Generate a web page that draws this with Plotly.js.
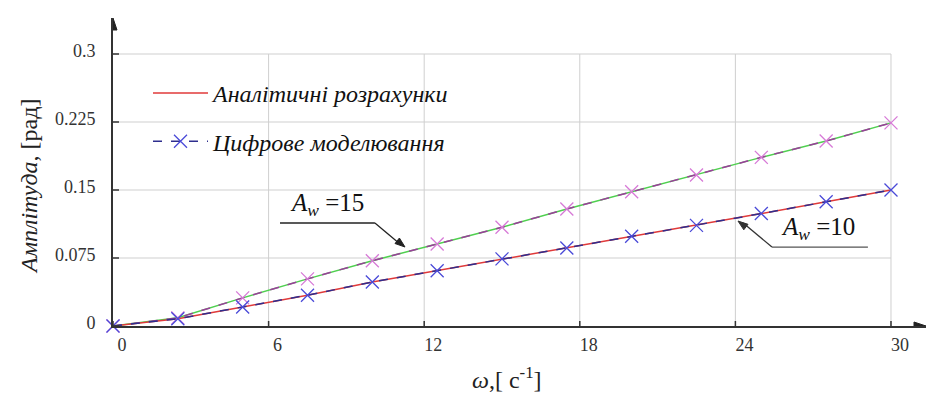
<!DOCTYPE html>
<html>
<head>
<meta charset="utf-8">
<script src="https://cdn.plot.ly/plotly-3.0.1.min.js"></script>
<style>
html,body{margin:0;padding:0;background:#fff;}
#chart{width:929px;height:400px;}
#chart svg text, #chart svg tspan { font-family: 'Liberation Serif', serif !important; }
</style>
</head>
<body>
<div id="chart"></div>
<script>
// ---- data ----
const omega = [0, 2.5, 5, 7.5, 10, 12.5, 15, 17.5, 20, 22.5, 25, 27.5, 30];
const amp10 = [0, 0.008, 0.021, 0.034, 0.0485, 0.061, 0.074, 0.086, 0.099, 0.111, 0.124, 0.137, 0.150];
const amp15 = [0, 0.009, 0.031, 0.052, 0.072, 0.0905, 0.109, 0.129, 0.148, 0.1665, 0.186, 0.204, 0.224];
const xTicks = [0, 6, 12, 18, 24, 30];
const xTickText = ['0', '6', '12', '18', '24', '30'];
const yTicks = [0, 0.075, 0.15, 0.225, 0.3];
const yTickText = ['0', '0.075', '0.15', '0.225', '0.3'];
const legendNames = ['Аналітичні розрахунки', 'Цифрове моделювання'];

const FONT = 'Liberation Serif';
const xMax = 31.35, yMax = 0.3397;
const gridX = xTicks[xTicks.length - 1], gridY = yTicks[yTicks.length - 1];

const traces = [
  {x: omega, y: amp15, mode: 'lines', line: {color: '#4fd04f', width: 1.5}, showlegend: false, cliponaxis: false, hoverinfo: 'skip'},
  {x: omega, y: amp10, mode: 'lines', name: '<i>' + legendNames[0] + '</i>', legendgroup: 'a', line: {color: '#e03a3a', width: 1.5}, cliponaxis: false},
  {x: omega, y: amp15, mode: 'lines+markers', showlegend: false, cliponaxis: false,
   line: {color: '#9a3f9a', width: 1.5, dash: 'dash'},
   marker: {symbol: 'x-thin', size: 13, line: {color: '#d77ad7', width: 1.3}}},
  {x: omega, y: amp10, mode: 'lines+markers', name: '<i>' + legendNames[1] + '</i>', legendgroup: 'b', cliponaxis: false,
   line: {color: '#2e2e8e', width: 1.5, dash: 'dash'},
   marker: {symbol: 'x-thin', size: 13, line: {color: '#4a4ad8', width: 1.3}}}
];

const shapes = [];
const gridStyle = {color: '#cfcfcf', width: 1};
xTicks.slice(1).forEach(v => shapes.push({type: 'line', xref: 'x', yref: 'y', x0: v, x1: v, y0: 0, y1: gridY, line: gridStyle, layer: 'below'}));
yTicks.slice(1).forEach(v => shapes.push({type: 'line', xref: 'x', yref: 'y', x0: 0, x1: gridX, y0: v, y1: v, line: gridStyle, layer: 'below'}));
xTicks.forEach(v => shapes.push({type: 'line', xref: 'x', yref: 'y', ysizemode: 'pixel', yanchor: 0, y0: -5, y1: 5, x0: v, x1: v, line: {color: '#333', width: 1.5}}));
yTicks.forEach(v => shapes.push({type: 'line', xref: 'x', yref: 'y', xsizemode: 'pixel', xanchor: 0, x0: -4, x1: 6, y0: v, y1: v, line: {color: '#333', width: 1.5}}));
shapes.push({type: 'line', xref: 'x', yref: 'y', x0: 6.44, x1: 10.1, y0: 0.1136, y1: 0.1136, line: {color: '#222', width: 1.3}});
shapes.push({type: 'line', xref: 'x', yref: 'y', x0: 10.1, x1: 11.1, y0: 0.1136, y1: 0.0895, line: {color: '#222', width: 1.3}});
shapes.push({type: 'line', xref: 'x', yref: 'y', x0: 25.41, x1: 29.11, y0: 0.0871, y1: 0.0871, line: {color: '#555', width: 1.3}});
shapes.push({type: 'line', xref: 'x', yref: 'y', x0: 25.41, x1: 24.3, y0: 0.0871, y1: 0.1135, line: {color: '#333', width: 1.3}});
function head(xa, ya, path, col) {
  shapes.push({type: 'path', xref: 'x', yref: 'y', xsizemode: 'pixel', ysizemode: 'pixel', xanchor: xa, yanchor: ya,
               path: path, fillcolor: col, line: {color: col, width: 1}});
}
head(11.26, 0.0871, 'M0,0 L-5.6,9 L-10,3.5 Z', '#222');
head(24.1, 0.1158, 'M0,0 L10,-3.3 L5.8,-8.8 Z', '#333');
head(xMax, 0, 'M0,0 L-12,4 L-12,-4 Z', '#222');
head(0, yMax, 'M0,0 L-4,-12 L4,-12 Z', '#222');

const L = 113, R = 3, T = 18, B = 74, W = 929, H = 400;
const px = v => (v - L) / (W - L - R);
const py = v => (H - B - v) / (H - T - B);

const annotations = [
  {x: 8.25, y: 0.1335, xref: 'x', yref: 'y', xanchor: 'center', yanchor: 'middle', showarrow: false,
   text: '<i>A</i><sub><i>w</i></sub> =15', font: {family: FONT, size: 25, color: '#111'}},
  {x: 27.19, y: 0.108, xref: 'x', yref: 'y', xanchor: 'center', yanchor: 'middle', showarrow: false,
   text: '<i>A</i><sub><i>w</i></sub> =10', font: {family: FONT, size: 25, color: '#111'}},
  {x: px(29), y: py(187), xref: 'paper', yref: 'paper', xanchor: 'center', yanchor: 'middle', showarrow: false, textangle: -90,
   text: '<i>Амплітуда</i>, [рад]', font: {family: FONT, size: 24, color: '#222'}},
  {x: px(507), y: py(378), xref: 'paper', yref: 'paper', xanchor: 'center', yanchor: 'middle', showarrow: false,
   text: '<i>ω</i>,[ с<sup>-1</sup>]', font: {family: FONT, size: 24, color: '#222'}}
];

const layout = {
  width: W, height: H,
  margin: {l: L, r: R, t: T, b: B, pad: 0},
  paper_bgcolor: '#fff', plot_bgcolor: '#fff',
  font: {family: FONT, color: '#333'},
  xaxis: {range: [0, xMax], showgrid: false, zeroline: false, showline: true, linecolor: '#333', linewidth: 2,
          tickvals: xTicks, ticktext: xTickText, ticks: '', ticklabelshift: 9, ticklabelstandoff: 1,
          tickfont: {family: FONT, size: 18, color: '#333'}, fixedrange: true},
  yaxis: {range: [0, yMax], showgrid: false, zeroline: false, showline: true, linecolor: '#333', linewidth: 2,
          tickvals: yTicks, ticktext: yTickText, ticks: '', ticklabelstandoff: 12, ticklabelshift: -3,
          tickfont: {family: FONT, size: 18, color: '#333'}, fixedrange: true},
  showlegend: true,
  legend: {x: px(148), y: py(71), xanchor: 'left', yanchor: 'top', itemwidth: 55,
           bgcolor: 'rgba(0,0,0,0)', traceorder: 'grouped', tracegroupgap: 14,
           font: {family: FONT, size: 24, color: '#111'}},
  shapes: shapes,
  annotations: annotations
};

Plotly.newPlot('chart', traces, layout, {displayModeBar: false});
</script>
</body>
</html>
